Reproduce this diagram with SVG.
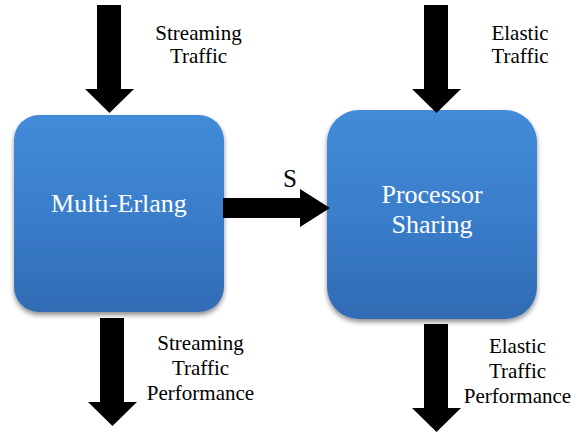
<svg xmlns="http://www.w3.org/2000/svg" width="583" height="433" viewBox="0 0 583 433">
<style>
text{font-family:'Liberation Serif','DejaVu Serif','Times New Roman',Times,serif}
.lbl{font-size:21px;fill:#000;text-anchor:middle}
.box{fill:url(#g);filter:url(#sh)}
.bt{font-size:26px;fill:#fff;text-anchor:middle}
.arr{fill:#000}
</style>
<defs>
<linearGradient id="g" x1="0" y1="0" x2="0" y2="1">
<stop offset="0" stop-color="#428bd8"/>
<stop offset="0.5" stop-color="#3a7ecb"/>
<stop offset="1" stop-color="#306bb3"/>
</linearGradient>
<filter id="sh" x="-10%" y="-10%" width="120%" height="125%">
<feGaussianBlur in="SourceAlpha" stdDeviation="2.5"/>
<feOffset dx="0" dy="3" result="b"/>
<feComponentTransfer><feFuncA type="linear" slope="0.45"/></feComponentTransfer>
<feMerge><feMergeNode/><feMergeNode in="SourceGraphic"/></feMerge>
</filter>
</defs>
<g id="multi-erlang">
<rect class="box" x="14" y="115" width="210" height="197" rx="25" ry="25"/>
<text class="bt" x="119" y="212" font-family="Liberation Serif, serif">Multi-Erlang</text>
</g>
<g id="processor-sharing">
<rect class="box" x="327" y="110" width="210" height="209" rx="32" ry="32"/>
<text class="bt" x="432" y="203">Processor</text>
<text class="bt" x="432" y="233">Sharing</text>
</g>
<g id="connectors">
<polygon class="arr" points="97,5 121,5 121,89 134,89 109.5,113 85,89 97,89"/>
<polygon class="arr" points="100,318 124,318 124,402 137,402 112.5,426 88,402 100,402"/>
<polygon class="arr" points="424,5 448,5 448,89 461,89 436.5,113 412,89 424,89"/>
<polygon class="arr" points="424,324 448,324 448,408 461,408 436.5,432 412,408 424,408"/>
<polygon class="arr" points="223,198 300,198 300,189 330,208 300,227 300,218 223,218"/>
<text class="lbl" x="290" y="187" style="font-size:25px">S</text>
</g>
<g id="labels">
<text class="lbl" x="198.5" y="40">Streaming</text>
<text class="lbl" x="198.5" y="63">Traffic</text>
<text class="lbl" x="520" y="40">Elastic</text>
<text class="lbl" x="520" y="63">Traffic</text>
<text class="lbl" x="200.5" y="350">Streaming</text>
<text class="lbl" x="200.5" y="375">Traffic</text>
<text class="lbl" x="200.5" y="400">Performance</text>
<text class="lbl" x="517.5" y="353">Elastic</text>
<text class="lbl" x="517.5" y="378">Traffic</text>
<text class="lbl" x="517.5" y="403">Performance</text>
</g>
</svg>
